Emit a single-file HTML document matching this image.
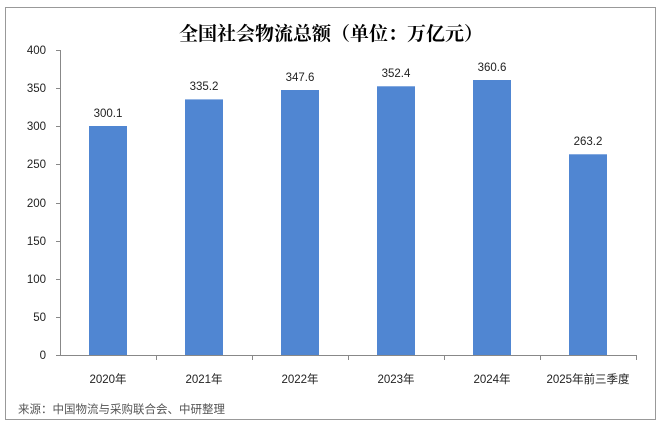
<!DOCTYPE html>
<html><head><meta charset="utf-8"><style>
body{margin:0;background:#fff;}
svg text{font-family:"Liberation Sans","Noto Sans CJK SC",sans-serif;}
</style></head><body>
<svg width="661" height="427" xmlns="http://www.w3.org/2000/svg">
<rect x="0" y="0" width="661" height="427" fill="#fff"/>
<rect x="5.5" y="7.5" width="650" height="412" fill="none" stroke="#999" stroke-width="1"/>
<text x="331" y="40" text-anchor="middle" font-size="19" font-weight="bold" style="font-family:'Noto Serif CJK SC','Noto Sans CJK SC',serif">全国社会物流总额（单位：万亿元）</text>
<g font-size="11.5" fill="#222" text-anchor="end">
<text x="46" y="359">0</text><text x="46" y="321">50</text><text x="46" y="283">100</text><text x="46" y="245">150</text><text x="46" y="207">200</text><text x="46" y="168">250</text><text x="46" y="130">300</text><text x="46" y="92">350</text><text x="46" y="54">400</text>
</g>
<g stroke="#888" stroke-width="1">
<line x1="60.5" y1="50" x2="60.5" y2="355.5"/>
<line x1="60" y1="355.5" x2="636" y2="355.5"/>
<line x1="56" y1="50.5" x2="60" y2="50.5"/><line x1="56" y1="88.5" x2="60" y2="88.5"/><line x1="56" y1="126.5" x2="60" y2="126.5"/><line x1="56" y1="164.5" x2="60" y2="164.5"/><line x1="56" y1="203.5" x2="60" y2="203.5"/><line x1="56" y1="241.5" x2="60" y2="241.5"/><line x1="56" y1="279.5" x2="60" y2="279.5"/><line x1="56" y1="317.5" x2="60" y2="317.5"/><line x1="56" y1="355.5" x2="60" y2="355.5"/>
<line x1="156.5" y1="355" x2="156.5" y2="360"/><line x1="252.5" y1="355" x2="252.5" y2="360"/><line x1="348.5" y1="355" x2="348.5" y2="360"/><line x1="444.5" y1="355" x2="444.5" y2="360"/><line x1="540.5" y1="355" x2="540.5" y2="360"/><line x1="636.5" y1="355" x2="636.5" y2="360"/>
</g>
<g fill="#5086d2">
<rect x="89" y="126" width="38" height="229"/>
<rect x="185" y="99.4" width="38" height="255.6"/>
<rect x="281" y="90" width="38" height="265"/>
<rect x="377" y="86.3" width="38" height="268.7"/>
<rect x="473" y="80" width="38" height="275"/>
<rect x="569" y="154.3" width="38" height="200.7"/>
</g>
<g font-size="11.5" fill="#222" text-anchor="middle">
<text x="108" y="117">300.1</text><text x="204" y="90">335.2</text><text x="300" y="81">347.6</text><text x="396" y="77">352.4</text><text x="492" y="71">360.6</text><text x="588" y="145">263.2</text>
</g>
<g font-size="11.5" fill="#222" text-anchor="middle">
<text x="108" y="383">2020年</text><text x="204" y="383">2021年</text><text x="300" y="383">2022年</text><text x="396" y="383">2023年</text><text x="492" y="383">2024年</text><text x="588" y="383">2025年前三季度</text>
</g>
<text x="18" y="413" font-size="11.5" fill="#555">来源：中国物流与采购联合会、中研整理</text>
</svg>
</body></html>
